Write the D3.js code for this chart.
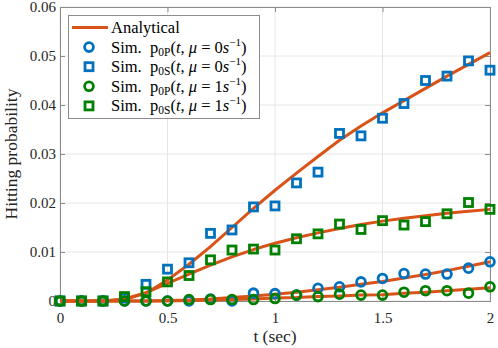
<!DOCTYPE html>
<html>
<head>
<meta charset="utf-8">
<script src="https://cdn.jsdelivr.net/npm/d3@7"></script>
<style>
  body { margin: 0; background: #fff; }
  svg text { font-family: "Liberation Serif", "DejaVu Serif", serif; }
</style>
</head>
<body>
<div id="chart"></div>
<script>
// time samples
const t = [0, 0.1, 0.2, 0.3, 0.4, 0.5, 0.6, 0.7, 0.8, 0.9, 1.0,
           1.1, 1.2, 1.3, 1.4, 1.5, 1.6, 1.7, 1.8, 1.9, 2.0];

// analytical curves
const anaP0 = [0, 0, 0, 0, 0, 0.0001, 0.0002, 0.0004, 0.0007, 0.0010, 0.0014,
               0.0018, 0.0023, 0.0028, 0.0034, 0.0040, 0.0047, 0.0054, 0.0062, 0.0071, 0.0080];
const anaS0 = [0, 0, 0, 0.0003, 0.0016, 0.0043, 0.0075, 0.0111, 0.0150, 0.0189, 0.0226,
               0.0261, 0.0295, 0.0328, 0.0357, 0.0384, 0.0409, 0.0434, 0.0459, 0.0483, 0.0507];
const anaP1 = [0, 0, 0, 0, 0, 0, 0.0001, 0.0002, 0.0003, 0.0004, 0.0006,
               0.0007, 0.0009, 0.0010, 0.0012, 0.0013, 0.0016, 0.0018, 0.0021, 0.0024, 0.0027];
const anaS1 = [0, 0, 0, 0.0004, 0.0017, 0.0036, 0.0055, 0.0073, 0.0090, 0.0105, 0.0118,
               0.0129, 0.0139, 0.0148, 0.0156, 0.0163, 0.0169, 0.0174, 0.0179, 0.0183, 0.0187];

// simulated values
const simP0 = [0, 0, 0, 0, 0, 0, 0, 0.0004, 0, 0.0016, 0.0015,
               0.0012, 0.0026, 0.0029, 0.0039, 0.0046, 0.0056, 0.0055, 0.0055, 0.0067, 0.0080];
const simS0 = [0, 0, 0, 0.0006, 0.0034, 0.0065, 0.0078, 0.0138, 0.0145, 0.0192, 0.0194,
               0.0241, 0.0263, 0.0342, 0.0337, 0.0373, 0.0403, 0.0450, 0.0459, 0.0490, 0.0471];
const simP1 = [0, 0, 0, 0, 0, 0, 0.0003, 0.0003, 0.0003, 0.0003, 0.0005,
               0.0012, 0.0009, 0.0014, 0.0012, 0.0012, 0.0018, 0.0021, 0.0021, 0.0016, 0.0029];
const simS1 = [0, 0, 0, 0.0009, 0.0019, 0.0039, 0.0052, 0.0084, 0.0104, 0.0106, 0.0104,
               0.0127, 0.0137, 0.0157, 0.0146, 0.0164, 0.0155, 0.0162, 0.0178, 0.0201, 0.0187];

const xTicks = [0, 0.5, 1, 1.5, 2];
const yTicks = [0, 0.01, 0.02, 0.03, 0.04, 0.05, 0.06];

const width = 498, height = 348;
const margin = { top: 7, right: 8, bottom: 47, left: 60 };

const blue = '#0072bd', green = '#008000', orange = '#d95319';

const svg = d3.select('#chart').append('svg')
    .attr('width', width)
    .attr('height', height);

const x = d3.scaleLinear([0, 2], [margin.left, width - margin.right]);
const y = d3.scaleLinear([0, 0.06], [height - margin.bottom, margin.top]);

// grid
svg.append('g')
    .attr('stroke', '#e6e6e6')
    .call(g => g.selectAll('.gx').data(xTicks).join('line')
        .attr('x1', d => x(d)).attr('x2', d => x(d))
        .attr('y1', y(0)).attr('y2', y(0.06)))
    .call(g => g.selectAll('.gy').data(yTicks).join('line')
        .attr('y1', d => y(d)).attr('y2', d => y(d))
        .attr('x1', x(0)).attr('x2', x(2)));

// axes
let xAxis = svg.append('g')
    .attr('transform', `translate(0,${y(0)})`)
    .call(d3.axisBottom(x).tickValues(xTicks).tickSize(-5).tickPadding(11).tickFormat(d3.format('')));
let yAxis = svg.append('g')
    .attr('transform', `translate(${x(0)},0)`)
    .call(d3.axisLeft(y).tickValues(yTicks).tickSize(-5).tickPadding(4).tickFormat(d3.format('')));
let xTop = svg.append('g')
    .attr('transform', `translate(0,${y(0.06)})`)
    .call(d3.axisTop(x).tickValues(xTicks).tickSize(-5).tickFormat(''));
let yRight = svg.append('g')
    .attr('transform', `translate(${x(2)},0)`)
    .call(d3.axisRight(y).tickValues(yTicks).tickSize(-5).tickFormat(''));

[xAxis, yAxis, xTop, yRight].forEach(a => {
    a.selectAll('path, line').attr('stroke', '#8c8c8c');
    a.selectAll('text')
        .attr('fill', '#262626')
        .attr('font-size', 15)
        .attr('font-family', '"Liberation Serif", serif');
});

// axis labels
svg.append('text')
    .attr('x', (x(0) + x(2)) / 2)
    .attr('y', height - 6)
    .attr('text-anchor', 'middle')
    .attr('font-size', 17.5)
    .attr('fill', '#262626')
    .text('t (sec)');
svg.append('text')
    .attr('transform', `translate(17,${(y(0) + y(0.06)) / 2}) rotate(-90)`)
    .attr('text-anchor', 'middle')
    .attr('font-size', 17.5)
    .attr('fill', '#262626')
    .text('Hitting probability');

// analytical lines
const line = d3.line().x((d, i) => x(t[i])).y(d => y(d));
svg.append('g')
    .attr('fill', 'none')
    .attr('stroke', orange)
    .attr('stroke-width', 3)
    .attr('stroke-linejoin', 'round')
    .selectAll('path')
    .data([anaP0, anaS0, anaP1, anaS1])
    .join('path')
    .attr('d', line);

// markers
function drawCircles(vals, color) {
    svg.append('g')
        .attr('fill', 'none')
        .attr('stroke', color)
        .attr('stroke-width', 2.8)
        .selectAll('circle')
        .data(vals)
        .join('circle')
        .attr('cx', (d, i) => x(t[i]))
        .attr('cy', d => y(d))
        .attr('r', 4.4);
}
function drawSquares(vals, color) {
    svg.append('g')
        .attr('fill', 'none')
        .attr('stroke', color)
        .attr('stroke-width', 2.8)
        .selectAll('rect')
        .data(vals)
        .join('rect')
        .attr('x', (d, i) => x(t[i]) - 4)
        .attr('y', d => y(d) - 4)
        .attr('width', 8)
        .attr('height', 8);
}
drawCircles(simP0, blue);
drawSquares(simS0, blue);
drawCircles(simP1, green);
drawSquares(simS1, green);

// legend
const legend = svg.append('g');
legend.append('rect')
    .attr('x', 68.5).attr('y', 15.5)
    .attr('width', 191).attr('height', 103)
    .attr('fill', '#fff')
    .attr('stroke', '#8c8c8c');

const rows = [
    { type: 'line', color: orange, label: 'Analytical' },
    { type: 'circle', color: blue, sub: '0P', mu: '0' },
    { type: 'square', color: blue, sub: '0S', mu: '0' },
    { type: 'circle', color: green, sub: '0P', mu: '1' },
    { type: 'square', color: green, sub: '0S', mu: '1' }
];

rows.forEach((r, i) => {
    const cy = 27.5 + i * 19.6;
    if (r.type === 'line') {
        legend.append('line')
            .attr('x1', 72).attr('x2', 108)
            .attr('y1', cy).attr('y2', cy)
            .attr('stroke', r.color).attr('stroke-width', 3);
    } else if (r.type === 'circle') {
        legend.append('circle')
            .attr('cx', 89).attr('cy', cy).attr('r', 4.4)
            .attr('fill', 'none').attr('stroke', r.color).attr('stroke-width', 2.8);
    } else {
        legend.append('rect')
            .attr('x', 85).attr('y', cy - 4).attr('width', 8).attr('height', 8)
            .attr('fill', 'none').attr('stroke', r.color).attr('stroke-width', 2.8);
    }
    const txt = legend.append('text')
        .attr('x', 111)
        .attr('y', cy + 5.5)
        .attr('font-size', 16.5)
        .attr('fill', '#000')
        .style('white-space', 'pre');
    if (r.label) {
        txt.text(r.label);
    } else {
        txt.append('tspan').text('Sim.  p');
        txt.append('tspan').attr('font-size', 11.5).attr('dy', 3).text(r.sub);
        txt.append('tspan').attr('dy', -3).text('(');
        txt.append('tspan').attr('font-style', 'italic').text('t');
        txt.append('tspan').text(', ');
        txt.append('tspan').attr('font-style', 'italic').text('μ');
        txt.append('tspan').text(` = ${r.mu}`);
        txt.append('tspan').attr('font-style', 'italic').text('s');
        txt.append('tspan').attr('font-size', 11).attr('dy', -7).text('−1');
        txt.append('tspan').attr('dy', 7).text(')');
    }
});
</script>
</body>
</html>
